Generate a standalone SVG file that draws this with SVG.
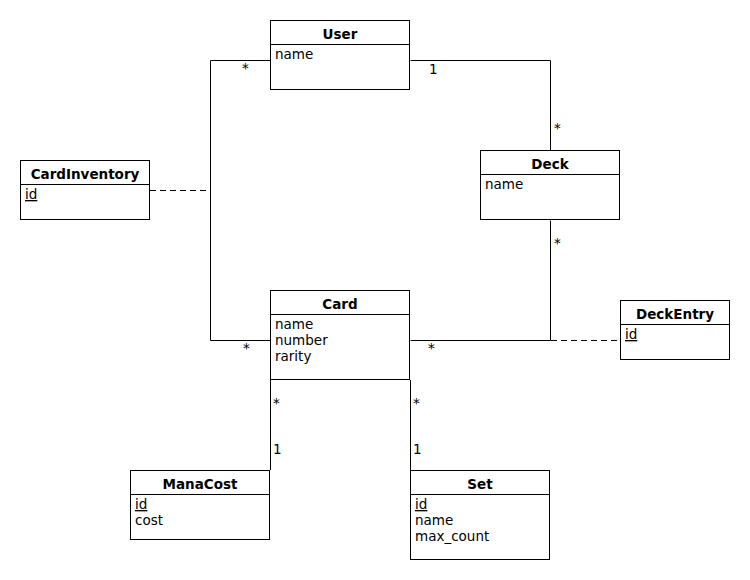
<svg xmlns="http://www.w3.org/2000/svg" width="750" height="580" viewBox="0 0 750 580">
  <style>
    .box { fill: #ffffff; stroke: #000000; stroke-width: 1; }
    .div { stroke: #000000; stroke-width: 1; }
    .title { font-family: "DejaVu Sans", sans-serif; font-size: 13.5px; font-weight: bold; text-anchor: middle; fill: #000; }
    .attr { font-family: "DejaVu Sans", sans-serif; font-size: 13.5px; fill: #000; }
    .key { text-decoration: underline; }
    .mult { font-family: "DejaVu Sans", sans-serif; font-size: 13.5px; fill: #000; }
    .assoc { fill: none; stroke: #000000; stroke-width: 1; }
    .dash { fill: none; stroke: #000000; stroke-width: 1; stroke-dasharray: 6 4; }
  </style>
  <rect width="750" height="580" fill="#ffffff"/>

  <!-- associations -->
  <g id="connectors">
    <polyline class="assoc" points="270.5,60.5 210.5,60.5 210.5,340.5 270.5,340.5"/>
    <line class="dash" x1="150" y1="190.5" x2="210" y2="190.5"/>
    <polyline class="assoc" points="410.5,60.5 550.5,60.5 550.5,150.5"/>
    <polyline class="assoc" points="550.5,220.5 550.5,340.5 410.5,340.5"/>
    <line class="dash" x1="551" y1="340.5" x2="620" y2="340.5"/>
    <line class="assoc" x1="270.5" y1="380" x2="270.5" y2="470"/>
    <line class="assoc" x1="410.5" y1="380" x2="410.5" y2="470"/>
    <text class="mult" x="242" y="73">*</text>
    <text class="mult" x="243" y="353">*</text>
    <text class="mult" x="429" y="74">1</text>
    <text class="mult" x="554" y="133">*</text>
    <text class="mult" x="554" y="248">*</text>
    <text class="mult" x="428" y="353">*</text>
    <text class="mult" x="273" y="408">*</text>
    <text class="mult" x="273" y="454">1</text>
    <text class="mult" x="413" y="408">*</text>
    <text class="mult" x="413" y="454">1</text>
  </g>

  <g id="User">
    <rect class="box" x="270.5" y="20.5" width="139" height="69"/>
    <line class="div" x1="270.5" y1="44.5" x2="409.5" y2="44.5"/>
    <text class="title" x="340" y="38.5">User</text>
    <text class="attr" x="275" y="59">name</text>
  </g>

  <g id="CardInventory">
    <rect class="box" x="20.5" y="160.5" width="129" height="59"/>
    <line class="div" x1="20.5" y1="184.5" x2="149.5" y2="184.5"/>
    <text class="title" x="85" y="178.5">CardInventory</text>
    <text class="attr key" x="25" y="199">id</text>
  </g>

  <g id="Deck">
    <rect class="box" x="480.5" y="150.5" width="139" height="69"/>
    <line class="div" x1="480.5" y1="174.5" x2="619.5" y2="174.5"/>
    <text class="title" x="550" y="168.5">Deck</text>
    <text class="attr" x="485" y="189">name</text>
  </g>

  <g id="Card">
    <rect class="box" x="270.5" y="290.5" width="139" height="89"/>
    <line class="div" x1="270.5" y1="314.5" x2="409.5" y2="314.5"/>
    <text class="title" x="340" y="308.5">Card</text>
    <text class="attr" x="275" y="329">name</text>
    <text class="attr" x="275" y="345">number</text>
    <text class="attr" x="275" y="361">rarity</text>
  </g>

  <g id="DeckEntry">
    <rect class="box" x="620.5" y="300.5" width="109" height="59"/>
    <line class="div" x1="620.5" y1="324.5" x2="729.5" y2="324.5"/>
    <text class="title" x="675" y="318.5">DeckEntry</text>
    <text class="attr key" x="625" y="339">id</text>
  </g>

  <g id="ManaCost">
    <rect class="box" x="130.5" y="470.5" width="139" height="69"/>
    <line class="div" x1="130.5" y1="494.5" x2="269.5" y2="494.5"/>
    <text class="title" x="200" y="488.5">ManaCost</text>
    <text class="attr key" x="135" y="509">id</text>
    <text class="attr" x="135" y="525">cost</text>
  </g>

  <g id="Set">
    <rect class="box" x="410.5" y="470.5" width="139" height="89"/>
    <line class="div" x1="410.5" y1="494.5" x2="549.5" y2="494.5"/>
    <text class="title" x="480" y="488.5">Set</text>
    <text class="attr key" x="415" y="509">id</text>
    <text class="attr" x="415" y="525">name</text>
    <text class="attr" x="415" y="541">max_count</text>
  </g>
</svg>
